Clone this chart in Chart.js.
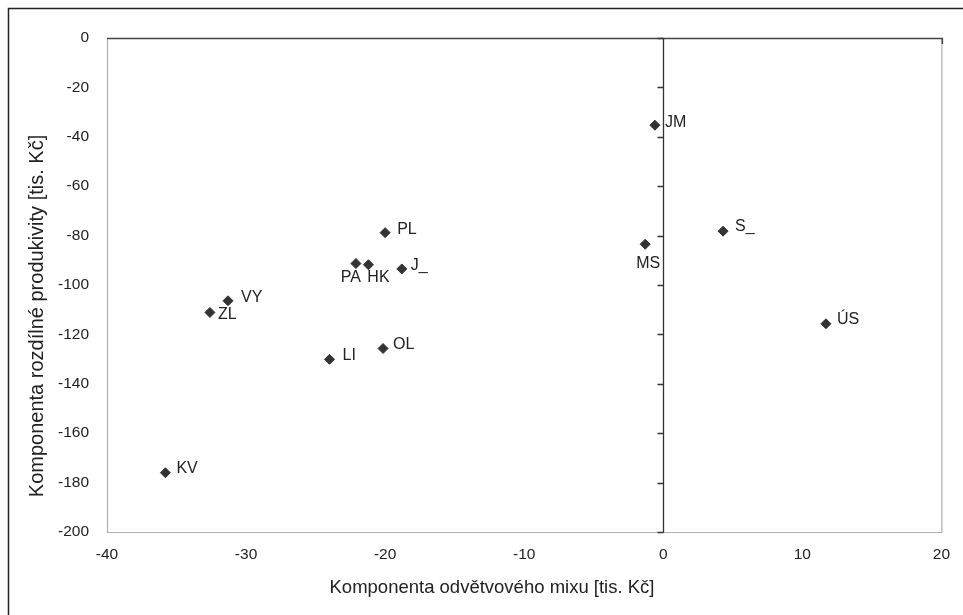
<!DOCTYPE html>
<html>
<head>
<meta charset="utf-8">
<script src="https://cdn.jsdelivr.net/npm/chart.js@4"></script>
<style>
  html, body { margin: 0; padding: 0; background: #fff; }
  #wrap { width: 963px; height: 615px; position: relative; }
</style>
</head>
<body>
<div id="wrap"><canvas id="c" width="963" height="615"></canvas></div>
<script>
// ---- data ----
const regionLabels = ['JM', 'MS', 'S_', 'ÚS', 'PL', 'PA', 'HK', 'J_', 'VY', 'ZL', 'LI', 'OL', 'KV'];
const mixValues = [-0.6, -1.3, 4.3, 11.7, -20.0, -22.1, -21.2, -18.8, -31.3, -32.6, -24.0, -20.15, -35.8];
const productivityValues = [-35.3, -83.5, -78.2, -115.7, -78.8, -91.3, -91.8, -93.5, -106.4, -111.1, -130.1, -125.7, -176.0];
const xTickValues = [-40, -30, -20, -10, 0, 10, 20];
const yTickValues = [0, -20, -40, -60, -80, -100, -120, -140, -160, -180, -200];
const xTitle = 'Komponenta odvětvového mixu [tis. Kč]';
const yTitle = 'Komponenta rozdílné produkivity [tis. Kč]';

// label placement (style): [dx, dy, align]
const labelPlacement = {
  'JM': [10, -3, 'left'], 'MS': [3, 19, 'center'], 'S_': [12, -5, 'left'], 'ÚS': [11, -4, 'left'],
  'PL': [12, -3, 'left'], 'PA': [-5, 14, 'center'], 'HK': [10, 13, 'center'], 'J_': [9, -3, 'left'],
  'VY': [13, -3, 'left'], 'ZL': [8, 2, 'left'], 'LI': [13, -4, 'left'], 'OL': [10, -4, 'left'], 'KV': [11, -4, 'left']
};

const FONT = '"Liberation Sans", Arial, Helvetica, sans-serif';
const points = mixValues.map((x, i) => ({ x: x, y: productivityValues[i] }));

const decor = {
  id: 'decor',
  beforeDraw(chart) {
    const ctx = chart.ctx;
    ctx.save();
    ctx.fillStyle = '#fff';
    ctx.fillRect(0, 0, chart.width, chart.height);
    // outer border (left + top)
    ctx.strokeStyle = '#222';
    ctx.lineWidth = 1.5;
    ctx.beginPath();
    ctx.moveTo(8.5, 615);
    ctx.lineTo(8.5, 8.5);
    ctx.lineTo(963, 8.5);
    ctx.stroke();
    ctx.restore();
  },
  afterDatasetsDraw(chart) {
    const ctx = chart.ctx;
    const a = chart.chartArea;
    const xs = chart.scales.x, ys = chart.scales.y;
    ctx.save();
    // frame
    ctx.lineWidth = 1.2;
    ctx.strokeStyle = '#b0b0b0';
    ctx.beginPath();
    ctx.moveTo(a.left + 0.5, a.top);
    ctx.lineTo(a.left + 0.5, a.bottom + 0.5);
    ctx.lineTo(a.right + 0.5, a.bottom + 0.5);
    ctx.lineTo(a.right + 0.5, a.top);
    ctx.stroke();
    ctx.strokeStyle = '#444';
    ctx.lineWidth = 1.5;
    ctx.beginPath();
    ctx.moveTo(a.left, a.top + 0.5);
    ctx.lineTo(a.right + 1, a.top + 0.5);
    ctx.lineTo(a.right + 1, a.top + 6);
    ctx.stroke();
    // vertical axis at x = 0 with ticks
    const x0 = Math.round(xs.getPixelForValue(0)) + 0.5;
    ctx.strokeStyle = '#333';
    ctx.lineWidth = 1.3;
    ctx.beginPath();
    ctx.moveTo(x0, a.top);
    ctx.lineTo(x0, a.bottom + 0.5);
    yTickValues.forEach(v => {
      const py = Math.round(ys.getPixelForValue(v)) + 0.5;
      ctx.moveTo(x0 - 6, py);
      ctx.lineTo(x0, py);
    });
    ctx.stroke();
    // point labels
    ctx.fillStyle = '#222';
    ctx.font = '16px ' + FONT;
    ctx.textBaseline = 'middle';
    points.forEach((p, i) => {
      const lab = regionLabels[i];
      const pl = labelPlacement[lab] || [10, -3, 'left'];
      ctx.textAlign = pl[2];
      ctx.fillText(lab, xs.getPixelForValue(p.x) + pl[0], ys.getPixelForValue(p.y) + pl[1]);
    });
    // axis titles
    ctx.font = '18.5px ' + FONT;
    ctx.textAlign = 'center';
    ctx.fillText(xTitle, 492, 588);
    ctx.translate(37, 316);
    ctx.rotate(-Math.PI / 2);
    ctx.font = '20px ' + FONT;
    ctx.fillText(yTitle, 0, 0);
    ctx.restore();
  }
};

new Chart(document.getElementById('c'), {
  type: 'scatter',
  data: {
    datasets: [{
      data: points,
      pointStyle: 'rectRot',
      pointRadius: 5,
      pointHoverRadius: 5,
      backgroundColor: '#333',
      borderColor: '#333',
      borderWidth: 1
    }]
  },
  options: {
    responsive: false,
    animation: false,
    events: [],
    layout: { padding: { left: 0, top: 38, right: 17, bottom: 0 } },
    plugins: { legend: { display: false }, tooltip: { enabled: false } },
    scales: {
      x: {
        type: 'linear', min: -40, max: 20,
        afterBuildTicks(scale) { scale.ticks = xTickValues.map(v => ({ value: v })); },
        afterFit(scale) { scale.height = 83; },
        grid: { display: false, drawTicks: false },
        border: { display: false },
        ticks: { padding: 13, color: '#222', font: { family: FONT, size: 15.5 }, maxRotation: 0, autoSkip: false }
      },
      y: {
        type: 'linear', min: -200, max: 0,
        afterBuildTicks(scale) { scale.ticks = yTickValues.map(v => ({ value: v })); },
        afterFit(scale) { scale.width = 107; },
        grid: { display: false, drawTicks: false },
        border: { display: false },
        ticks: { padding: 18, color: '#222', font: { family: FONT, size: 15.5 }, autoSkip: false }
      }
    }
  },
  plugins: [decor]
});
</script>
</body>
</html>
